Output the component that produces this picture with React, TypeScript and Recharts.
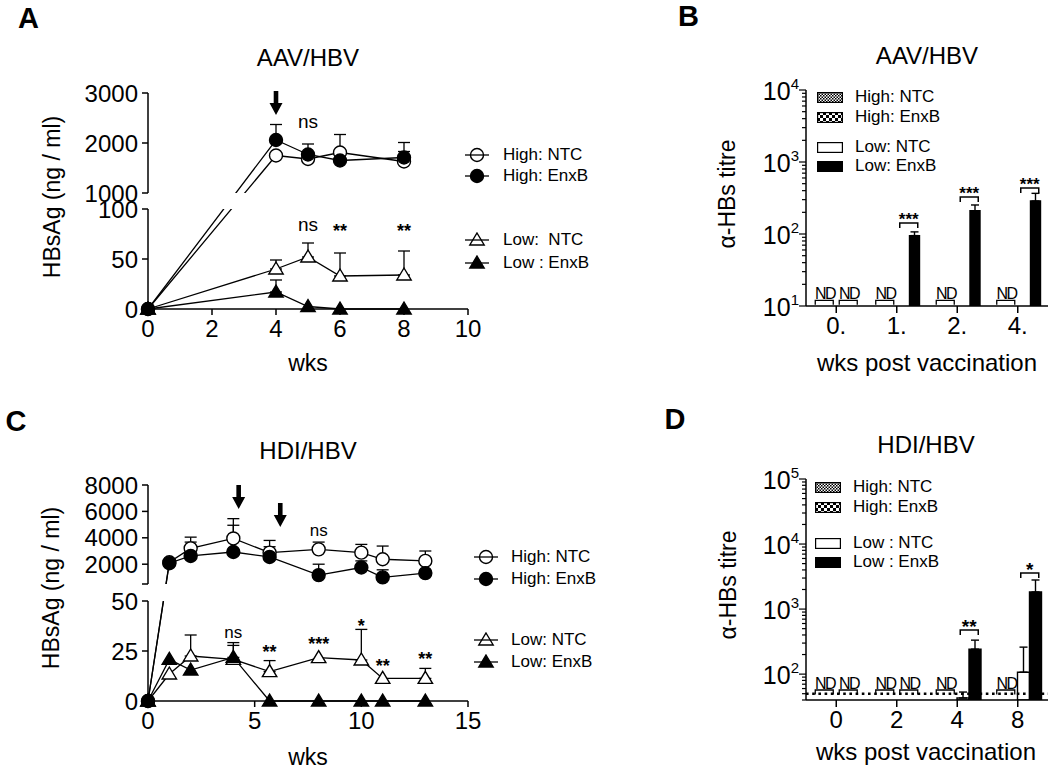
import React from 'react';
import {
  LineChart, Line, BarChart, Bar, XAxis, YAxis, ErrorBar,
  ReferenceLine, ReferenceDot, ReferenceArea, Legend,
} from 'recharts';

const FONT = '"Liberation Sans", Arial, Helvetica, sans-serif';
const INK = '#000';

// ---------- A: AAV/HBV, serum HBsAg (ng/ml) ----------
const aWeeks = [0, 4, 5, 6, 8];
const aHighNtc = [0, 1750, 1680, 1810, 1630];
const aHighNtcErr = [0, 0, 300, 360, 200];
const aHighEnxB = [0, 2060, 1770, 1650, 1710];
const aHighEnxBErr = [0, 310, 0, 220, 300];
const aLowNtc = [0, 40, 52, 33, 34];
const aLowNtcErr = [0, 9, 14, 23, 24];
const aLowEnxB = [0, 17, 2.5, 0, 0];
const aLowEnxBErr = [0, 12, 0, 0, 0];
const aXTicks = [0, 2, 4, 6, 8, 10];
const aYTicks = [0, 50, 100, 1000, 2000, 3000];
const aYTickLabels = ['0', '50', '100', '1000', '2000', '3000'];
const aLegend = ['High: NTC', 'High: EnxB', 'Low:  NTC', 'Low : EnxB'];
const aSig = [
  { wk: 5, v: 2400, text: 'ns' },
  { wk: 5, v: 83, text: 'ns' },
  { wk: 6, v: 82, text: '**' },
  { wk: 8, v: 82, text: '**' },
];
const aArrows = [{ wk: 4, v: 2560 }];

// ---------- C: HDI/HBV, serum HBsAg (ng/ml) ----------
const cWeeks = [0, 1, 2, 4, 5.7, 8, 10, 11, 13];
const cHighNtc = [0, 2150, 3200, 3950, 2875, 3125, 2875, 2375, 2250];
const cHighNtcErr = [0, 0, 850, 1500, 925, 550, 625, 1000, 750];
const cHighEnxB = [0, 2075, 2625, 2925, 2550, 1175, 1750, 1000, 1325];
const cHighEnxBErr = [0, 0, 1050, 2025, 775, 825, 500, 575, 0];
const cLowNtc = [0, 13.5, 22.5, 20.8, 14.7, 21.7, 20.5, 11.3, 11.3];
const cLowNtcErr = [0, 0, 10.5, 8.4, 5.5, 0, 15.3, 0, 5];
const cLowEnxB = [0, 20.8, 15.5, 21.8, 0, 0, 0, 0, 0];
const cLowEnxBErr = [0, 0, 0, 6, 0, 0, 0, 0, 0];
const cXTicks = [0, 5, 10, 15];
const cYTicks = [0, 25, 50, 500, 2000, 4000, 6000, 8000];
const cYTickLabels = ['0', '25', '50', '', '2000', '4000', '6000', '8000'];
const cLegend = ['High: NTC', 'High: EnxB', 'Low: NTC', 'Low: EnxB'];
const cSig = [
  { wk: 8, v: 4515, text: 'ns' },
  { wk: 4, v: 34, text: 'ns' },
  { wk: 5.7, v: 26.5, text: '**' },
  { wk: 8, v: 30.5, text: '***' },
  { wk: 10, v: 39.5, text: '*' },
  { wk: 11, v: 19.5, text: '**' },
  { wk: 13, v: 23, text: '**' },
];
const cArrows = [{ wk: 4.25, v: 6180 }, { wk: 6.2, v: 4820 }];

// ---------- B: AAV/HBV, anti-HBs titre ----------
const bCats = ['0.', '1.', '2.', '4.'];
const bHighNtc = [null, null, null, null];
const bHighEnxB = [null, null, null, null];
const bLowNtc = [null, null, null, null];
const bLowNtcErr = [null, null, null, null];
const bLowEnxB = [null, 95, 210, 287];
const bLowEnxBErr = [null, 12, 43, 80];
const bLegend = ['High: NTC', 'High: EnxB', 'Low: NTC', 'Low: EnxB'];
const bNd = [
  { cat: '0.', pair: 'high' }, { cat: '0.', pair: 'low' },
  { cat: '1.', pair: 'high' }, { cat: '2.', pair: 'high' }, { cat: '4.', pair: 'high' },
];
const bSig = [
  { cat: '1.', v: 142, text: '***' },
  { cat: '2.', v: 327, text: '***' },
  { cat: '4.', v: 435, text: '***' },
];

// ---------- D: HDI/HBV, anti-HBs titre ----------
const dCats = ['0', '2', '4', '8'];
const dHighNtc = [null, null, null, null];
const dHighEnxB = [null, null, null, null];
const dLowNtc = [null, null, 43, 107];
const dLowNtcErr = [null, null, 10, 153];
const dLowEnxB = [null, null, 242, 1830];
const dLowEnxBErr = [null, null, 91, 970];
const dLegend = ['High: NTC', 'High: EnxB', 'Low : NTC', 'Low : EnxB'];
const dNd = [
  { cat: '0', pair: 'high' }, { cat: '0', pair: 'low' },
  { cat: '2', pair: 'high' }, { cat: '2', pair: 'low' },
  { cat: '4', pair: 'high' }, { cat: '8', pair: 'high' },
];
const dSig = [
  { cat: '4', v: 475, text: '**' },
  { cat: '8', v: 3580, text: '*' },
];
const dLod = 50;

// ---------- broken y axis helpers ----------
type Brk = { lowMax: number; lowPx: number; gapPx: number; highMin: number; highMax: number; highPx: number };
const brkA: Brk = { lowMax: 100, lowPx: 100, gapPx: 16, highMin: 1000, highMax: 3000, highPx: 100 };
const brkC: Brk = { lowMax: 50, lowPx: 100, gapPx: 17, highMin: 500, highMax: 8000, highPx: 99 };

const toPx = (b: Brk, v: number) =>
  v <= b.lowMax
    ? (v / b.lowMax) * b.lowPx
    : b.lowPx + b.gapPx + ((v - b.highMin) / (b.highMax - b.highMin)) * b.highPx;

const errPx = (b: Brk, v: number, e: number) => (e > 0 ? [0, toPx(b, v + e) - toPx(b, v)] : null);

const buildLineRows = (b: Brk, weeks: number[], s: number[][]) =>
  weeks.map((wk, i) => ({
    wk,
    hn: toPx(b, s[0][i]), hnE: errPx(b, s[0][i], s[1][i]),
    he: toPx(b, s[2][i]), heE: errPx(b, s[2][i], s[3][i]),
    ln: toPx(b, s[4][i]), lnE: errPx(b, s[4][i], s[5][i]),
    le: toPx(b, s[6][i]), leE: errPx(b, s[6][i], s[7][i]),
  }));

const rowsA = buildLineRows(brkA, aWeeks, [
  aHighNtc, aHighNtcErr, aHighEnxB, aHighEnxBErr, aLowNtc, aLowNtcErr, aLowEnxB, aLowEnxBErr,
]);
const rowsC = buildLineRows(brkC, cWeeks, [
  cHighNtc, cHighNtcErr, cHighEnxB, cHighEnxBErr, cLowNtc, cLowNtcErr, cLowEnxB, cLowEnxBErr,
]);

const buildBarRows = (cats: string[], s: (number | null)[][]) =>
  cats.map((cat, i) => ({
    cat,
    hn: s[0][i], he: s[1][i], ln: s[2][i], le: s[4][i],
    lnE: s[3][i] ? [0, s[3][i]] : null,
    leE: s[5][i] ? [0, s[5][i]] : null,
  }));

const rowsB = buildBarRows(bCats, [bHighNtc, bHighEnxB, bLowNtc, bLowNtcErr, bLowEnxB, bLowEnxBErr]);
const rowsD = buildBarRows(dCats, [dHighNtc, dHighEnxB, dLowNtc, dLowNtcErr, dLowEnxB, dLowEnxBErr]);

const lineSeries = [
  { key: 'hn', shape: 'circle', filled: false },
  { key: 'he', shape: 'circle', filled: true },
  { key: 'ln', shape: 'tri', filled: false },
  { key: 'le', shape: 'tri', filled: true },
];

const barSeries = [
  { key: 'hn', fill: '#fff', kind: 'fine' },
  { key: 'he', fill: '#fff', kind: 'coarse' },
  { key: 'ln', fill: '#fff', kind: 'open' },
  { key: 'le', fill: INK, kind: 'filled' },
];

const PAIR_DX: Record<string, number> = { high: -12, low: 12 };

// ---------- small drawing pieces ----------
const Marker = ({ cx, cy, shape, filled, hollow }: any) => {
  if (cx == null || cy == null || Number.isNaN(cx) || Number.isNaN(cy)) return null;
  const fill = filled ? INK : hollow ? 'none' : '#fff';
  if (shape === 'circle') {
    return <circle cx={cx} cy={cy} r={6.5} fill={fill} stroke={INK} strokeWidth={1.4} />;
  }
  return (
    <polygon
      points={`${cx},${cy - 7} ${cx + 7.2},${cy + 5} ${cx - 7.2},${cy + 5}`}
      fill={fill}
      stroke={INK}
      strokeWidth={1.4}
    />
  );
};

const axisTitle = (text: string, x: number, y: number, size: number, rotate = false) => ({
  value: text,
  content: () => (
    <text
      x={x}
      y={y}
      textAnchor="middle"
      dominantBaseline="central"
      fontSize={size}
      fill={INK}
      transform={rotate ? `rotate(-90 ${x} ${y})` : undefined}
    >
      {text}
    </text>
  ),
});

const sigText = (text: string, nsSize: number) => (p: any) => {
  const star = text.includes('*');
  const fs = star ? 18 : nsSize;
  return (
    <text
      x={p.cx}
      y={p.cy + (star ? 0.58 : 0.27) * fs}
      textAnchor="middle"
      fontSize={fs}
      fontWeight={star ? 700 : 400}
      fill={INK}
    >
      {text}
    </text>
  );
};

const arrowShape = (p: any) => {
  const { cx, cy } = p;
  return (
    <path
      d={`M${cx - 2.3},${cy - 24} H${cx + 2.3} V${cy - 12} H${cx + 6.5} L${cx},${cy} L${cx - 6.5},${cy - 12} H${cx - 2.3} Z`}
      fill={INK}
    />
  );
};

// white band that interrupts the lines where they cross the axis break
const breakMask = (w: number, h: number) => (p: any) => (
  <rect x={p.cx - w / 2} y={p.cy - h / 2} width={w} height={h} fill="#fff" stroke="none" />
);

const ndShape = (dx: number) => (p: any) => {
  const x = p.cx + dx;
  const y = p.cy;
  return (
    <g>
      <path d={`M${x - 9},${y + 4.5} V${y} H${x + 9} V${y + 4.5}`} fill="none" stroke={INK} strokeWidth={1.3} />
      <text x={x + 0.7} y={y - 1} textAnchor="middle" fontSize={16} letterSpacing={-1.5} fill={INK}>
        ND
      </text>
    </g>
  );
};

const bracketShape = (text: string, dx: number, fs: number) => (p: any) => {
  const x = p.cx + dx;
  const y = p.cy;
  return (
    <g>
      <path d={`M${x - 9},${y + 5} V${y} H${x + 9} V${y + 5}`} fill="none" stroke={INK} strokeWidth={1.5} />
      <text x={x} y={y - 8 + 0.58 * fs} textAnchor="middle" fontSize={fs} fontWeight={700} fill={INK}>
        {text}
      </text>
    </g>
  );
};

const LogTick = (props: any) => {
  const { x, y, payload } = props;
  const e = Math.log10(payload.value);
  const major = Math.abs(e - Math.round(e)) < 1e-6;
  return (
    <g>
      <line x1={x - (major ? 7 : 4)} x2={x} y1={y} y2={y} stroke={INK} strokeWidth={1.2} />
      {major && (
        <text x={x - 7} y={y + 10} textAnchor="end" fontSize={25} fill={INK}>
          10
          <tspan fontSize={15} dy={-11}>
            {Math.round(e)}
          </tspan>
        </text>
      )}
    </g>
  );
};

const logTicks = (min: number, max: number) => {
  const out: number[] = [];
  for (let d = Math.floor(Math.log10(min)); d <= Math.round(Math.log10(max)); d++) {
    for (let k = 1; k < 10; k++) {
      const v = Math.round(k * Math.pow(10, d));
      if (v >= min && v <= max) out.push(v);
    }
  }
  return out;
};

const LineLegendBox = ({ labels, ys, gap }: { labels: string[]; ys: number[]; gap: number }) => (
  <div style={{ position: 'relative', width: 0, height: 0 }}>
    {labels.map((label, i) => (
      <div
        key={label}
        style={{
          position: 'absolute', left: 0, top: ys[i] - 11, height: 22, display: 'flex',
          alignItems: 'center', whiteSpace: 'pre', fontSize: 17, lineHeight: '22px', color: INK,
        }}
      >
        <svg width={24} height={16} style={{ flex: 'none' }}>
          <line x1={0} x2={24} y1={8} y2={8} stroke={INK} strokeWidth={1.3} />
          <Marker cx={12} cy={8} shape={lineSeries[i].shape} filled={lineSeries[i].filled} hollow />
        </svg>
        <span style={{ marginLeft: gap }}>{label}</span>
      </div>
    ))}
  </div>
);

const Swatch = ({ kind, id }: { kind: string; id: string }) => {
  const cell = kind === 'fine' ? 1.5 : 3;
  const fill = kind === 'filled' ? INK : kind === 'open' ? '#fff' : `url(#${id})`;
  return (
    <svg width={26} height={11} style={{ flex: 'none' }}>
      <defs>
        <pattern id={id} width={cell * 2} height={cell * 2} patternUnits="userSpaceOnUse">
          <rect width={cell * 2} height={cell * 2} fill="#fff" />
          <rect width={cell} height={cell} fill={INK} />
          <rect x={cell} y={cell} width={cell} height={cell} fill={INK} />
        </pattern>
      </defs>
      <rect x={0.6} y={0.6} width={24.8} height={9.8} fill={fill} stroke={INK} strokeWidth={1.2} />
    </svg>
  );
};

const BarLegendBox = ({ labels, ys, idp }: { labels: string[]; ys: number[]; idp: string }) => (
  <div style={{ position: 'relative', width: 0, height: 0 }}>
    {labels.map((label, i) => (
      <div
        key={label}
        style={{
          position: 'absolute', left: 0, top: ys[i] - 11, height: 22, display: 'flex',
          alignItems: 'center', whiteSpace: 'pre', fontSize: 17, lineHeight: '22px', color: INK,
        }}
      >
        <Swatch kind={barSeries[i].kind} id={`${idp}-${barSeries[i].kind}`} />
        <span style={{ marginLeft: 12 }}>{label}</span>
      </div>
    ))}
  </div>
);

// ---------- panels ----------
function BrokenLinePanel(p: any) {
  const brk: Brk = p.brk;
  const total = brk.lowPx + brk.gapPx + brk.highPx;
  const yPos = p.yTicks.map((v: number) => toPx(brk, v));
  const fmt = (val: number) => {
    const i = yPos.findIndex((q: number) => Math.abs(q - val) < 1e-6);
    return i >= 0 ? p.yTickLabels[i] : '';
  };
  const x0 = p.xDomain[0];
  const pxPerWk = (p.width - p.margin.left - p.margin.right - 60) / (p.xDomain[1] - p.xDomain[0]);
  return (
    <div style={{ position: 'absolute', left: p.left, top: p.top }}>
      <LineChart width={p.width} height={p.height} data={p.rows} margin={p.margin}>
        <XAxis
          type="number" dataKey="wk" domain={p.xDomain} ticks={p.xTicks} interval={0}
          height={30} tickSize={6} tickMargin={5}
          axisLine={{ stroke: INK, strokeWidth: 1.5 }} tickLine={{ stroke: INK, strokeWidth: 1.5 }}
          tick={{ fontSize: 24, fill: INK }}
          label={axisTitle('wks', p.xTitle[0], p.xTitle[1], 23)}
        />
        <YAxis
          type="number" domain={[0, total]} ticks={yPos} interval={0} tickFormatter={fmt}
          width={60} tickSize={6} tickMargin={4} axisLine={false}
          tickLine={{ stroke: INK, strokeWidth: 1.5 }} tick={{ fontSize: 24, fill: INK }}
          label={axisTitle('HBsAg (ng / ml)', p.yTitle[0], p.yTitle[1], 23, true)}
        />
        <ReferenceLine
          segment={[{ x: x0, y: 0 }, { x: x0, y: brk.lowPx }]}
          stroke={INK} strokeWidth={1.5} ifOverflow="visible"
        />
        <ReferenceLine
          segment={[{ x: x0, y: brk.lowPx + brk.gapPx }, { x: x0, y: total }]}
          stroke={INK} strokeWidth={1.5} ifOverflow="visible"
        />
        {lineSeries.map((s) => (
          <Line
            key={s.key} dataKey={s.key} type="linear" stroke={INK} strokeWidth={1.3}
            isAnimationActive={false} activeDot={false}
            dot={(d: any) => (
              <Marker key={`${s.key}-${d.index}`} cx={d.cx} cy={d.cy} shape={s.shape} filled={s.filled} />
            )}
          >
            <ErrorBar dataKey={`${s.key}E`} direction="y" width={6} stroke={INK} strokeWidth={1.3} />
          </Line>
        ))}
        <ReferenceArea
          x1={p.mask[0]} x2={p.mask[1]} y1={brk.lowPx} y2={brk.lowPx + brk.gapPx}
          fill="#fff" fillOpacity={1} stroke="none" ifOverflow="visible" zIndex={450}
        />
        <ReferenceDot
          x={(p.mask[0] + p.mask[1]) / 2} y={brk.lowPx + brk.gapPx / 2} r={1} zIndex={450}
          ifOverflow="visible"
          shape={breakMask((p.mask[1] - p.mask[0]) * pxPerWk, brk.gapPx - 1)}
        />
        {p.sig.map((s: any, i: number) => (
          <ReferenceDot key={`sig${i}`} x={s.wk} y={toPx(brk, s.v)} r={1} shape={sigText(s.text, p.nsSize)} />
        ))}
        {p.arrows.map((a: any, i: number) => (
          <ReferenceDot key={`arr${i}`} x={a.wk} y={toPx(brk, a.v)} r={1} shape={arrowShape} />
        ))}
        <Legend
          layout="vertical" align="center" verticalAlign="middle"
          wrapperStyle={{ left: p.legendLeft, top: 0, width: 0, height: 0 }}
          content={() => <LineLegendBox labels={p.legend} ys={p.legendYs} gap={p.legendGap} />}
        />
      </LineChart>
    </div>
  );
}

function LogBarPanel(p: any) {
  const ticks = logTicks(p.domain[0], p.domain[1]);
  return (
    <div style={{ position: 'absolute', left: p.left, top: p.top }}>
      <BarChart
        width={p.width} height={p.height} data={p.rows} margin={p.margin}
        barSize={p.barSize} barGap={p.barGap}
      >
        <XAxis
          dataKey="cat" type="category" height={30} tickSize={7} tickMargin={4} interval={0}
          axisLine={{ stroke: INK, strokeWidth: 1.5 }} tickLine={{ stroke: INK, strokeWidth: 1.5 }}
          tick={{ fontSize: 24, fill: INK }}
          label={axisTitle('wks post vaccination', p.xTitle[0], p.xTitle[1], 24)}
        />
        <YAxis
          scale="log" type="number" domain={p.domain} allowDataOverflow ticks={ticks} interval={0}
          tick={<LogTick />} tickLine={false} tickSize={0} tickMargin={0} width={60}
          axisLine={{ stroke: INK, strokeWidth: 1.5 }}
          label={axisTitle('α-HBs titre', p.yTitle[0], p.yTitle[1], 23, true)}
        />
        {p.lod && (
          <ReferenceLine y={p.lod} stroke={INK} strokeWidth={2.6} strokeDasharray="2.6 3.6" />
        )}
        {barSeries.map((s) => (
          <Bar
            key={s.key} dataKey={s.key} fill={s.fill} stroke={INK} strokeWidth={1.4}
            isAnimationActive={false}
          >
            {(s.key === 'ln' || s.key === 'le') && (
              <ErrorBar dataKey={`${s.key}E`} direction="y" width={4} stroke={INK} strokeWidth={1.4} />
            )}
          </Bar>
        ))}
        {p.nd.map((n: any, i: number) => (
          <ReferenceDot key={`nd${i}`} x={n.cat} y={p.ndY} r={1} shape={ndShape(PAIR_DX[n.pair])} />
        ))}
        {p.sig.map((s: any, i: number) => (
          <ReferenceDot key={`sg${i}`} x={s.cat} y={s.v} r={1} shape={bracketShape(s.text, PAIR_DX.low, p.sigSize)} />
        ))}
        <Legend
          layout="vertical" align="center" verticalAlign="middle"
          wrapperStyle={{ left: p.legendLeft, top: 0, width: 0, height: 0 }}
          content={() => <BarLegendBox labels={p.legend} ys={p.legendYs} idp={p.idp} />}
        />
      </BarChart>
    </div>
  );
}

const FreeText = ({ x, y, size, bold, children }: any) => (
  <div
    style={{
      position: 'absolute', left: x, top: y, transform: 'translate(-50%, -50%)',
      fontSize: size, fontWeight: bold ? 700 : 400, lineHeight: 1, whiteSpace: 'pre', color: INK,
    }}
  >
    {children}
  </div>
);

export default function App() {
  return (
    <div
      style={{
        position: 'absolute', left: 0, top: 0, width: 1050, height: 770,
        background: '#fff', fontFamily: FONT, color: INK, overflow: 'hidden',
      }}
    >
      <BrokenLinePanel
        left={0} top={0} width={530} height={390}
        margin={{ top: 93, right: 62, bottom: 51, left: 88 }}
        brk={brkA} rows={rowsA} xDomain={[0, 10]} xTicks={aXTicks}
        yTicks={aYTicks} yTickLabels={aYTickLabels} mask={[2.2, 3.2]}
        sig={aSig} nsSize={19} arrows={aArrows}
        legend={aLegend} legendYs={[155, 176, 240, 263]} legendLeft={465} legendGap={14}
        yTitle={[52, 197]} xTitle={[308, 363]}
      />
      <BrokenLinePanel
        left={0} top={390} width={530} height={380}
        margin={{ top: 95, right: 62, bottom: 39, left: 88 }}
        brk={brkC} rows={rowsC} xDomain={[0, 15]} xTicks={cXTicks}
        yTicks={cYTicks} yTickLabels={cYTickLabels} mask={[0.55, 0.95]}
        sig={cSig} nsSize={17} arrows={cArrows}
        legend={cLegend} legendYs={[167, 189, 250, 272]} legendLeft={474} legendGap={13}
        yTitle={[51, 198]} xTitle={[308, 367]}
      />
      <LogBarPanel
        left={530} top={0} width={520} height={390}
        margin={{ top: 90, right: 2, bottom: 54, left: 216 }}
        rows={rowsB} domain={[10, 10000]} barSize={10} barGap={2}
        nd={bNd} ndY={12} sig={bSig} sigSize={17}
        legend={bLegend} legendYs={[97, 117, 147, 166]} legendLeft={287} idp="b"
        yTitle={[197, 194]} xTitle={[397, 362]}
      />
      <LogBarPanel
        left={530} top={390} width={520} height={380}
        margin={{ top: 89, right: 2, bottom: 40, left: 216 }}
        rows={rowsD} domain={[40, 100000]} barSize={12} barGap={0} lod={dLod}
        nd={dNd} ndY={57} sig={dSig} sigSize={19}
        legend={dLegend} legendYs={[97, 117, 153, 172]} legendLeft={285} idp="d"
        yTitle={[198, 195]} xTitle={[396, 361]}
      />
      <FreeText x={28.5} y={17.5} size={29} bold>A</FreeText>
      <FreeText x={688.5} y={16} size={29} bold>B</FreeText>
      <FreeText x={16} y={421} size={29} bold>C</FreeText>
      <FreeText x={675} y={418.5} size={29} bold>D</FreeText>
      <FreeText x={308} y={58} size={24}>AAV/HBV</FreeText>
      <FreeText x={927} y={56} size={24}>AAV/HBV</FreeText>
      <FreeText x={308} y={451} size={24}>HDI/HBV</FreeText>
      <FreeText x={926} y={445} size={24}>HDI/HBV</FreeText>
    </div>
  );
}
